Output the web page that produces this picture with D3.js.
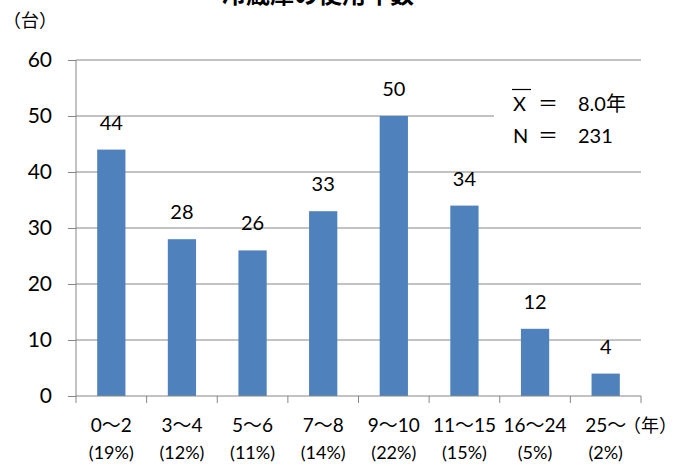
<!DOCTYPE html>
<html>
<head>
<meta charset="utf-8">
<script src="https://cdn.jsdelivr.net/npm/d3@7"></script>
<style>
  body { margin: 0; background: #fff; }
  svg { display: block; }
</style>
</head>
<body>
<svg id="chart" width="691" height="466"></svg>
<script>
// 冷蔵庫の使用年数 — 年数区分ごとの台数
const title = "冷蔵庫の使用年数";
const categories = ["0〜2", "3〜4", "5〜6", "7〜8", "9〜10", "11〜15", "16〜24", "25〜"];
const counts = [44, 28, 26, 33, 50, 34, 12, 4];
const shares = ["(19%)", "(12%)", "(11%)", "(14%)", "(22%)", "(15%)", "(5%)", "(2%)"];
const yTicks = [0, 10, 20, 30, 40, 50, 60];
const meanLabel = "8.0年";
const nLabel = "231";

const svg = d3.select("#chart");
const left = 76, right = 641;
const numFont = "Lato, 'Noto Sans CJK JP', sans-serif";
const jpFont = "'Noto Sans CJK JP', sans-serif";
const axisColor = "#868686";

const x = d3.scaleBand().domain(categories).range([left, right]).paddingInner(0.6).paddingOuter(0.3);
const y = d3.scaleLinear().domain([0, 60]).range([396, 60]);
const cx = i => x(categories[i]) + x.bandwidth() / 2;

// gridlines
svg.append("g")
  .selectAll("line")
  .data(yTicks.filter(d => d > 0))
  .join("line")
  .attr("x1", left).attr("x2", right)
  .attr("y1", d => y(d)).attr("y2", d => y(d))
  .attr("stroke", axisColor).attr("stroke-width", 1);

// bars
svg.append("g")
  .selectAll("rect")
  .data(counts)
  .join("rect")
  .attr("x", (d, i) => x(categories[i]))
  .attr("y", d => y(d))
  .attr("width", x.bandwidth())
  .attr("height", d => y(0) - y(d))
  .attr("fill", "#4F81BD");

// value labels
svg.append("g")
  .selectAll("text")
  .data(counts)
  .join("text")
  .attr("x", (d, i) => cx(i))
  .attr("y", d => y(d) - 20)
  .attr("text-anchor", "middle")
  .attr("font-family", numFont)
  .attr("font-size", 20)
  .attr("fill", "#000")
  .text(d => d);

// y axis
const yAxis = svg.append("g")
  .attr("transform", `translate(${left},0)`)
  .call(d3.axisLeft(y).tickValues(yTicks).tickSize(8).tickPadding(16));
yAxis.select(".domain").attr("stroke", axisColor).attr("d", `M0,${y(60)}V${y(0)}`);
yAxis.selectAll(".tick line").attr("stroke", axisColor);
yAxis.selectAll(".tick text")
  .attr("font-family", numFont).attr("font-size", 21).attr("fill", "#000");

// x axis with ticks at band boundaries
const bounds = d3.range(categories.length + 1).map(i => left + i * (right - left) / categories.length);
const xg = svg.append("g");
xg.append("line")
  .attr("x1", left).attr("x2", right)
  .attr("y1", y(0)).attr("y2", y(0))
  .attr("stroke", axisColor);
xg.selectAll("line.tk")
  .data(bounds)
  .join("line")
  .attr("class", "tk")
  .attr("x1", d => d).attr("x2", d => d)
  .attr("y1", y(0)).attr("y2", y(0) + 7)
  .attr("stroke", axisColor);

// category labels
svg.append("g")
  .selectAll("text")
  .data(categories)
  .join("text")
  .attr("x", (d, i) => cx(i))
  .attr("y", 432)
  .attr("text-anchor", "middle")
  .attr("font-family", numFont)
  .attr("font-size", 19)
  .text(d => d);

svg.append("g")
  .selectAll("text")
  .data(shares)
  .join("text")
  .attr("x", (d, i) => cx(i))
  .attr("y", 459)
  .attr("text-anchor", "middle")
  .attr("font-family", numFont)
  .attr("font-size", 18)
  .text(d => d);

// unit labels
svg.append("text")
  .attr("x", 623).attr("y", 432)
  .attr("font-family", jpFont).attr("font-size", 18)
  .text("（年）");
svg.append("text")
  .attr("x", 3).attr("y", 27)
  .attr("font-family", jpFont).attr("font-size", 18)
  .text("（台）");

// title (runs off the top edge)
svg.append("text")
  .attr("x", 318).attr("y", 3)
  .attr("text-anchor", "middle")
  .attr("font-family", jpFont).attr("font-weight", "bold").attr("font-size", 24)
  .text(title);

// statistics box
const box = svg.append("g").attr("font-family", numFont).attr("font-size", 20);
box.append("rect").attr("x", 494).attr("y", 82).attr("width", 160).attr("height", 70).attr("fill", "#fff");
box.append("text").attr("x", 513).attr("y", 111).text("X");
box.append("text").attr("x", 538).attr("y", 111).attr("font-family", jpFont).text("＝");
box.append("text").attr("x", 578).attr("y", 111).text(meanLabel);
box.append("line")
  .attr("x1", 512).attr("x2", 531).attr("y1", 89.5).attr("y2", 89.5)
  .attr("stroke", "#000").attr("stroke-width", 1.2);
box.append("text").attr("x", 513).attr("y", 143).text("N");
box.append("text").attr("x", 538).attr("y", 143).attr("font-family", jpFont).text("＝");
box.append("text").attr("x", 578).attr("y", 143).text(nLabel);
</script>
</body>
</html>
